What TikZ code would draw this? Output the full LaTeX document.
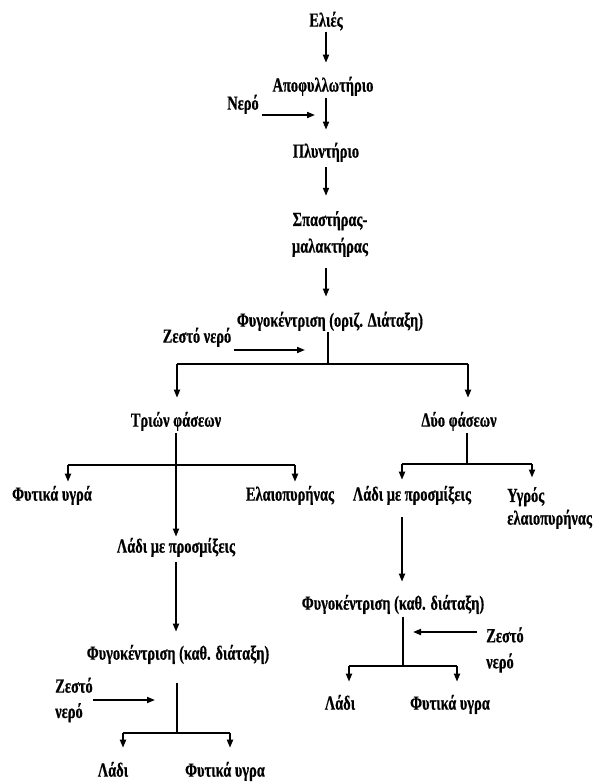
\documentclass[tikz,border=0pt]{standalone}
\usepackage{fontspec}
\setmainfont{Liberation Serif}[FakeStretch=0.72,FakeBold=0.6]
\usetikzlibrary{arrows.meta}
\tikzset{
  lbl/.style={font=\bfseries\fontsize{15}{18}\selectfont, inner sep=0pt, text height=10.5pt, text depth=3.5pt},
  mlbl/.style={font=\bfseries\fontsize{15}{18}\selectfont, inner sep=0pt},
  ln/.style={line width=1.3pt},
  arr/.style={ln, -{Triangle[length=6pt,width=4.5pt]}}
}
\begin{document}
\begin{tikzpicture}[x=0.75pt,y=-0.75pt]
\useasboundingbox (0,0) rectangle (605,784);
% nodes
\node[lbl] (elies) at (326,22) {Ελιές};
\node[lbl] (apo) at (323,87) {Αποφυλλωτήριο};
\node[lbl] (nero1) at (243,105) {Νερό};
\node[lbl] (plyn) at (326,153) {Πλυντήριο};
\node[mlbl, align=center, font=\bfseries\fontsize{15}{20}\selectfont] (spast) at (330,234) {Σπαστήρας-\\μαλακτήρας};
\node[lbl] (fyg1) at (330,322) {Φυγοκέντριση (οριζ. Διάταξη)};
\node[lbl] (zesto1) at (197,338) {Ζεστό νερό};
\node[lbl] (trion) at (176,422) {Τριών φάσεων};
\node[lbl] (dyo) at (459,422) {Δύο φάσεων};
\node[lbl] (fyt1) at (52,496) {Φυτικά υγρά};
\node[lbl] (elaio) at (290,496) {Ελαιοπυρήνας};
\node[lbl] (ladi1) at (176,548) {Λάδι με προσμίξεις};
\node[lbl] (ladi2) at (412,496) {Λάδι με προσμίξεις};
\node[mlbl, align=left, anchor=west, font=\bfseries\fontsize{15}{17}\selectfont] (ygros) at (507,508) {Υγρός\\ελαιοπυρήνας};
\node[lbl] (fyg2) at (178,655) {Φυγοκέντριση (καθ. διάταξη)};
\node[mlbl, align=left, anchor=west, font=\bfseries\fontsize{15}{19}\selectfont] (zesto2) at (55,700) {Ζεστό\\νερό};
\node[lbl] (ladi4) at (113,772) {Λάδι};
\node[lbl] (fyt4) at (225,772) {Φυτικά υγρα};
\node[lbl] (fyg3) at (393,605) {Φυγοκέντριση (καθ. διάταξη)};
\node[mlbl, align=left, anchor=west, font=\bfseries\fontsize{15}{19.5}\selectfont] (zesto3) at (486,650) {Ζεστό\\νερό};
\node[lbl] (ladi3) at (340,705) {Λάδι};
\node[lbl] (fyt3) at (450,705) {Φυτικά υγρα};
% coordinates
\coordinate (n1) at (315,115);
\coordinate (z1e) at (305,350);
\coordinate (j1) at (328,364);
\coordinate (j2) at (177,364);
\coordinate (j3) at (468,364);
\coordinate (j5) at (68,465);
\coordinate (j6) at (295,465);
\coordinate (j7) at (467,464);
\coordinate (j8) at (402,464);
\coordinate (j9) at (532,464);
\coordinate (j11) at (403,666);
\coordinate (j12) at (349,666);
\coordinate (j13) at (457,666);
\coordinate (z3e) at (413,632);
\coordinate (j14) at (177,733);
\coordinate (j15) at (123,733);
\coordinate (j16) at (230,733);
\coordinate (z2e) at (155,700);
% connectors
\draw[arr, shorten >=11pt] (elies.south) -- (elies.south |- apo.north);
\draw[arr, shorten <=1.3pt, shorten >=10.3pt] (apo.south -| plyn) -- (plyn.north);
\draw[arr, shorten <=2pt] (nero1.east |- n1) -- (n1);
\draw[arr, shorten <=3.5pt, shorten >=11.3pt] (plyn.south) -- (plyn.south |- spast.north);
\draw[arr, shorten <=8pt, shorten >=11.8pt] (spast.south -| plyn) -- (fyg1.north -| plyn);
\draw[arr, shorten <=1.5pt] (zesto1.east |- z1e) -- (z1e);
\draw[ln] (fyg1.south -| j1) -- (j1);
\draw[ln] (j2) -- (j3);
\draw[arr, shorten >=11pt] (j2) -- (j2 |- trion.north);
\draw[arr, shorten >=11pt] (j3) -- (j3 |- dyo.north);
\draw[arr, shorten <=1.3pt, shorten >=1.3pt] (trion.south) -- (ladi1.north);
\draw[ln] (j5) -- (j6);
\draw[arr, shorten >=3.5pt] (j5) -- (j5 |- fyt1.north);
\draw[arr, shorten >=3.5pt] (j6) -- (j6 |- elaio.north);
\draw[ln, shorten <=1.3pt] (dyo.south -| j7) -- (j7);
\draw[ln] (j8) -- (j9);
\draw[arr, shorten >=5pt] (j8) -- (j8 |- ladi2.north);
\draw[arr, shorten >=7pt] (j9) -- (j9 |- ygros.north);
\draw[arr, shorten <=8.8pt, shorten >=10.3pt] (ladi2.south -| j8) -- (fyg3.north -| j8);
\draw[ln, shorten <=1.5pt] (fyg3.south -| j11) -- (j11);
\draw[ln] (j12) -- (j13);
\draw[arr, shorten >=10.3pt] (j12) -- (j12 |- ladi3.north);
\draw[arr, shorten >=10.3pt] (j13) -- (j13 |- fyt3.north);
\draw[arr, shorten <=6.8pt] (zesto3.west |- z3e) -- (z3e);
\draw[arr, shorten <=3.5pt, shorten >=10.3pt] (ladi1.south) -- (fyg2.north -| ladi1);
\draw[ln, shorten <=14pt] (fyg2.south -| j14) -- (j14);
\draw[ln] (j15) -- (j16);
\draw[arr, shorten >=11pt] (j15) -- (j15 |- ladi4.north);
\draw[arr, shorten >=11pt] (j16) -- (j16 |- fyt4.north);
\draw[arr] (zesto2.east |- z2e) -- (z2e);
\end{tikzpicture}
\end{document}
